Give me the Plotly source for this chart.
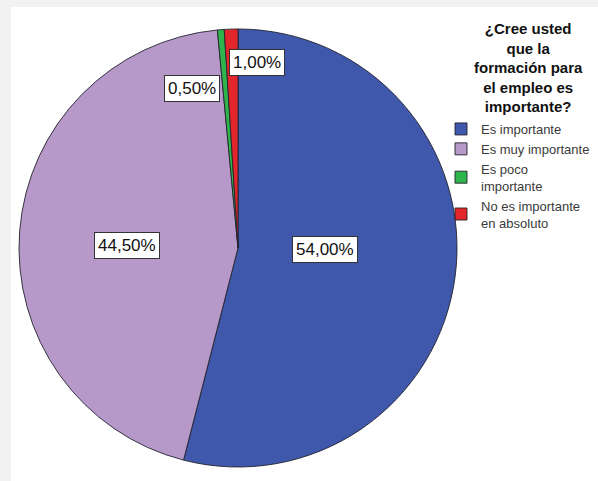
import plotly.graph_objects as go

categories = ["Es importante", "Es muy importante", "Es poco<br>importante", "No es importante<br>en absoluto"]
values = [54.0, 44.5, 0.5, 1.0]
colors = ["#3F58AB", "#B799C9", "#2FB54B", "#E3262B"]
legend_title = "¿Cree usted<br>que la<br>formación para<br>el empleo es<br>importante?"

# label box positions (pixel coords in the figure)
label_pos = [(325, 249), (127, 245), (192, 89), (257, 62)]

W, H = 598, 481
cx, cy, r = 238, 248, 219

fig = go.Figure()
fig.add_trace(go.Pie(
    labels=categories,
    values=values,
    sort=False,
    direction="clockwise",
    rotation=0,
    marker=dict(colors=colors, line=dict(color="#22222e", width=0.9)),
    textinfo="none",
    hoverinfo="label+percent",
    domain=dict(x=[(cx - r) / W, (cx + r) / W], y=[(H - cy - r) / H, (H - cy + r) / H]),
))

annotations = []
for v, (px, py) in zip(values, label_pos):
    annotations.append(dict(
        x=px / W, y=1 - py / H, xref="paper", yref="paper",
        text=f"{v:.2f}%".replace(".", ","), showarrow=False,
        font=dict(family="Liberation Sans, Arial", size=17, color="#111111"),
        bgcolor="white", bordercolor="#333333", borderwidth=1, borderpad=3,
        xanchor="center", yanchor="middle",
    ))

annotations.append(dict(
    x=528 / W, y=1 - 18 / H, xref="paper", yref="paper",
    text=legend_title, showarrow=False, align="center",
    xanchor="center", yanchor="top",
    font=dict(family="Liberation Sans, Arial", size=15, color="#111111", weight="bold"),
))

fig.update_layout(
    width=W, height=H,
    margin=dict(l=0, r=0, t=0, b=0),
    paper_bgcolor="#F2F2F2",
    shapes=[dict(type="rect", xref="paper", yref="paper", x0=11 / W, x1=1, y0=0, y1=1 - 7 / H,
                 fillcolor="white", line=dict(width=0), layer="below")],
    annotations=annotations,
    showlegend=True,
    legend=dict(
        x=441 / W, y=1 - 114 / H, xanchor="left", yanchor="top",
        bgcolor="rgba(0,0,0,0)",
        font=dict(family="Liberation Sans, Arial", size=13, color="#3a3a3a"),
        tracegroupgap=0, itemclick=False,
    ),
)

fig.write_html("out.html", config={"displayModeBar": False},
               post_script="document.body.style.margin='0';")
